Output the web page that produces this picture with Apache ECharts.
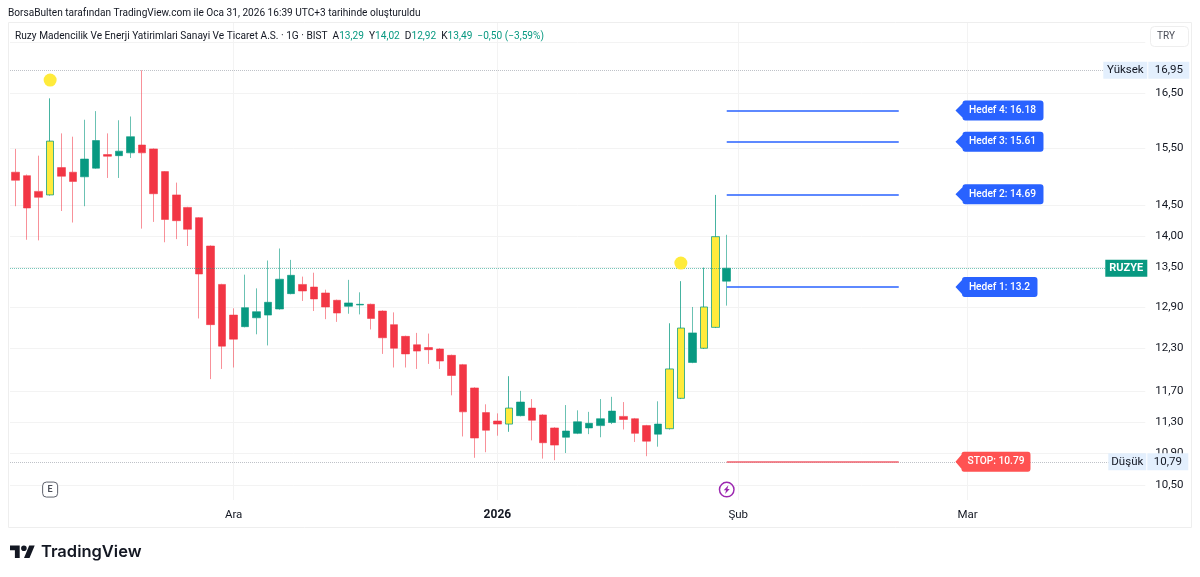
<!DOCTYPE html>
<html>
<head>
<meta charset="utf-8">
<style>
    html, body { margin: 0; padding: 0; background: #fff; }
    #chart { width: 1200px; height: 577px; }
</style>
<script src="https://cdn.jsdelivr.net/npm/echarts@6/dist/echarts.min.js"></script>
</head>
<body>
<div id="chart"></div>
<script>
// islem gunleri, sagdaki bos alan dahil
const dates = [
    "2025-11-04","2025-11-05","2025-11-06","2025-11-07","2025-11-10","2025-11-11","2025-11-12","2025-11-13","2025-11-14",
    "2025-11-17","2025-11-18","2025-11-19","2025-11-20","2025-11-21","2025-11-24","2025-11-25","2025-11-26","2025-11-27","2025-11-28",
    "2025-12-01","2025-12-02","2025-12-03","2025-12-04","2025-12-05","2025-12-08","2025-12-09","2025-12-10","2025-12-11","2025-12-12",
    "2025-12-15","2025-12-16","2025-12-17","2025-12-18","2025-12-19","2025-12-22","2025-12-23","2025-12-24","2025-12-25","2025-12-26",
    "2025-12-29","2025-12-30","2025-12-31","2026-01-02","2026-01-05","2026-01-06","2026-01-07","2026-01-08","2026-01-09",
    "2026-01-12","2026-01-13","2026-01-14","2026-01-15","2026-01-16","2026-01-19","2026-01-20","2026-01-21","2026-01-22","2026-01-23",
    "2026-01-26","2026-01-27","2026-01-28","2026-01-29","2026-01-30","2026-02-02","2026-02-03","2026-02-04","2026-02-05","2026-02-06",
    "2026-02-09","2026-02-10","2026-02-11","2026-02-12","2026-02-13","2026-02-16","2026-02-17","2026-02-18","2026-02-19","2026-02-20",
    "2026-02-23","2026-02-24","2026-02-25","2026-02-26","2026-02-27","2026-03-02","2026-03-03","2026-03-04","2026-03-05","2026-03-06",
    "2026-03-09","2026-03-10","2026-03-11","2026-03-12","2026-03-13","2026-03-16","2026-03-17","2026-03-18","2026-03-19","2026-03-20","2026-03-23"
];

const opens = [15.07,15.01,14.74,14.68,15.15,15.07,14.99,15.14,15.38,15.36,15.41,15.55,15.48,15.08,14.68,14.47,14.30,13.84,13.24,12.78,12.61,12.74,12.78,12.87,13.10,13.24,13.20,13.11,13.00,12.91,12.93,12.94,12.84,12.64,12.47,12.35,12.31,12.29,12.20,12.07,11.75,11.42,11.31,11.27,11.38,11.48,11.39,11.22,11.10,11.15,11.22,11.25,11.29,11.37,11.34,11.25,11.14,11.21,11.61,12.10,12.30,12.60,13.29];
const closes = [14.93,14.46,14.64,15.62,15.00,14.91,15.30,15.63,15.35,15.44,15.70,15.41,14.70,14.27,14.25,14.11,13.40,12.64,12.33,12.43,12.89,12.83,12.97,13.32,13.38,13.14,13.02,12.90,12.81,12.96,12.94,12.73,12.45,12.30,12.22,12.26,12.28,12.12,11.92,11.43,11.09,11.19,11.27,11.48,11.56,11.32,11.03,11.00,11.18,11.30,11.28,11.34,11.44,11.33,11.15,11.05,11.27,12.01,12.59,12.52,12.90,13.99,13.49];
const lows = [14.49,13.94,13.93,14.67,14.41,14.22,14.49,15.13,14.97,14.97,15.32,14.12,14.23,13.90,13.95,13.84,12.73,11.87,12.01,12.03,12.60,12.50,12.34,12.86,13.09,12.99,12.84,12.72,12.68,12.80,12.79,12.57,12.22,12.03,12.03,12.01,12.08,12.01,11.65,11.11,10.84,10.91,11.12,11.17,11.37,11.06,10.83,10.81,10.90,11.14,11.14,11.10,11.27,11.20,11.04,10.86,10.98,11.20,11.60,12.09,12.29,12.59,12.92];
const highs = [15.48,15.03,15.36,16.41,15.76,15.70,16.01,16.17,15.76,16.00,16.07,16.95,15.49,15.09,14.89,14.48,14.31,13.85,13.25,12.88,13.39,13.18,13.61,13.80,13.62,13.36,13.42,13.16,13.01,13.31,13.12,12.95,12.85,12.82,12.48,12.52,12.51,12.30,12.21,12.08,11.76,11.53,11.41,11.91,11.71,11.60,11.40,11.23,11.52,11.45,11.43,11.60,11.63,11.56,11.35,11.26,11.57,12.66,13.29,12.90,13.50,14.68,14.02];

// sari mumlar
const highlighted = [3, 43, 57, 58, 60, 61];

const xTickDates = ["2025-12-01", "2026-01-02", "2026-02-02", "2026-03-02"];
const xTickLabels = ["Ara", "2026", "Şub", "Mar"];
const yTicks = [10.5, 10.9, 11.3, 11.7, 12.3, 12.9, 13.5, 14, 14.5, 15.5, 16.5, 17.5];

const targets = [13.2, 14.69, 15.61, 16.18];
const stopPrice = 10.79;
const highPrice = 16.95;
const lowPrice = 10.79;
const lastPrice = 13.49;
const dots = [[3, 16.76], [58, 13.57]];

const RED = "#f23645";
const GREEN = "#089981";
const BLUE = "#2962ff";
const STOP_RED = "#ff5252";
const YELLOW = "#ffeb3b";
const FONT = "Roboto, sans-serif";
const tr = v => v.toFixed(2).replace(".", ",");

const chart = echarts.init(document.getElementById("chart"));

const candles = opens.map((o, i) => {
    const item = { value: [o, closes[i], lows[i], highs[i]] };
    if (highlighted.includes(i)) {
        item.itemStyle = { color: YELLOW, borderColor: "rgba(8,153,129,0.75)" };
    }
    return item;
});

// sag eksendeki fiyat etiketleri
function priceTag(name, value, nameWidth, offsetX) {
    return {
        show: true, position: "end", distance: 0, offset: [offsetX, 0],
        formatter: "{name|" + name + "}{gap| }{val|" + tr(value) + "}",
        rich: {
            name: { backgroundColor: "#e3effd", color: "#131722", fontFamily: FONT, fontSize: 11.5, align: "center", width: nameWidth, height: 17, lineHeight: 17 },
            gap: { width: 1, height: 17 },
            val: { backgroundColor: "#e3effd", color: "#131722", fontFamily: FONT, fontSize: 11.5, align: "center", width: 41, height: 17, lineHeight: 17 }
        }
    };
}

function targetLine(value, color) {
    return [
        { coord: [dates[62], value], lineStyle: { color: color, width: 1.5, type: "solid" }, label: { show: false } },
        { coord: [dates[77], value] }
    ];
}

// sola bakan fiyat kutusu
const PIN = "path://M0 10L7 3Q7 0 10 0L85 0Q88 0 88 3L88 17Q88 20 85 20L10 20Q7 20 7 17Z";
function pin(text, value, color, width) {
    return {
        coord: [dates[85], value],
        symbol: PIN,
        symbolSize: [width, 20],
        symbolOffset: [9 - (88 - width) / 2, 0],
        itemStyle: { color: color },
        label: {
            show: true, position: "inside", offset: [3, 0], formatter: text,
            color: "#fff", fontFamily: FONT, fontSize: 10.2, fontWeight: 500
        }
    };
}

const markerPoints = [
    ...dots.map(d => ({
        coord: [dates[d[0]], d[1]], symbol: "circle", symbolSize: 13,
        itemStyle: { color: YELLOW }, label: { show: false }
    })),
    ...targets.map((v, i) => pin("Hedef " + (i + 1) + ": " + v, v, BLUE, i === 0 ? 82 : 88)),
    pin("STOP: " + stopPrice, stopPrice, STOP_RED, 75),
    {
        coord: [dates[3], 10.45], symbol: "roundRect", symbolSize: 15,
        itemStyle: { color: "#fff", borderColor: "#5d606b", borderWidth: 1 },
        label: { show: true, position: "inside", formatter: "E", color: "#4a4d57", fontFamily: FONT, fontSize: 9, fontWeight: 600 }
    },
    {
        coord: [dates[62], 10.45], symbolSize: 16,
        symbol: "path://M12 0a12 12 0 1 1 0 24a12 12 0 1 1 0-24zM12 2.2a9.8 9.8 0 1 0 0 19.6a9.8 9.8 0 1 0 0-19.6zM14.5 5.5L7.5 13H11L9.5 18.5L16.5 11H13Z",
        itemStyle: { color: "#9c27b0" }, label: { show: false }
    }
];

const option = {
    animation: false,
    backgroundColor: "#fff",
    textStyle: { fontFamily: FONT },
    grid: { left: 10, right: 54.7, top: 23, bottom: 77 },
    xAxis: {
        type: "category",
        data: dates,
        boundaryGap: true,
        axisLine: { show: false },
        axisTick: { show: false },
        axisLabel: {
            interval: (i, v) => xTickDates.includes(v),
            margin: 9,
            fontFamily: FONT,
            fontSize: 11.5,
            color: "#131722",
            formatter: v => {
                const label = xTickLabels[xTickDates.indexOf(v)];
                return label === "2026" ? "{bold|" + label + "}" : label;
            },
            rich: { bold: { fontWeight: 700, fontSize: 12, fontFamily: FONT, color: "#131722" } }
        },
        splitLine: {
            show: true,
            alignWithLabel: true,
            interval: (i, v) => xTickDates.includes(v),
            lineStyle: { color: "#f3f3f3", width: 1 }
        }
    },
    yAxis: {
        type: "log",
        logBase: 10,
        min: 10.325,
        max: 17.9,
        position: "right",
        axisLine: { show: false },
        axisTick: { show: false, customValues: yTicks },
        axisLabel: {
            customValues: yTicks.slice(0, -1),
            margin: 10,
            align: "left",
            padding: [2, 0, 0, 0],
            fontFamily: FONT,
            fontSize: 11.5,
            color: "#131722",
            formatter: v => tr(+v)
        },
        splitLine: { show: true, lineStyle: { color: "#f3f3f3", width: 1 } }
    },
    series: [{
        type: "candlestick",
        data: candles,
        barWidth: 8,
        itemStyle: {
            color: GREEN,
            color0: RED,
            borderColor: "rgba(8,153,129,0.6)",
            borderColor0: "rgba(242,54,69,0.55)",
            borderWidth: 1
        },
        markLine: {
            silent: true,
            symbol: ["none", "none"],
            animation: false,
            data: [
                { yAxis: highPrice, lineStyle: { color: "#bfc2c8", type: "dotted", width: 1 }, label: priceTag("Yüksek", highPrice, 44, -42) },
                { yAxis: lowPrice, lineStyle: { color: "#bfc2c8", type: "dotted", width: 1 }, label: priceTag("Düşük", lowPrice, 38, -37) },
                {
                    yAxis: lastPrice, lineStyle: { color: "rgba(8,153,129,0.55)", type: "dotted", width: 1 },
                    label: {
                        show: true, position: "end", distance: 0, offset: [-19, 0], formatter: "RUZYE",
                        backgroundColor: GREEN, color: "#fff", fontFamily: FONT, fontSize: 11, fontWeight: 700,
                        width: 42, height: 17, lineHeight: 17, align: "center"
                    }
                },
                ...targets.map(v => targetLine(v, BLUE)),
                targetLine(stopPrice, "#f0616d")
            ]
        },
        markPoint: { silent: true, animation: false, data: markerPoints }
    }],
    graphic: [
        // cerceve
        { type: "rect", z: -1, shape: { x: 8.5, y: 22.5, width: 1183, height: 505 }, style: { fill: "none", stroke: "#eeeeee", lineWidth: 1 } },
        {
            type: "text", z: 100, x: 8, y: 13.5,
            style: { text: "BorsaBulten tarafından TradingView.com ile Oca 31, 2026 16:39 UTC+3 tarihinde oluşturuldu", fontFamily: FONT, fontSize: 10.1, fill: "#131722", verticalAlign: "middle" }
        },
        {
            type: "text", z: 100, x: 15, y: 36,
            style: {
                text: "Ruzy Madencilik Ve Enerji Yatirimlari Sanayi Ve Ticaret A.S. · 1G · BIST  A{v|13,29}  Y{v|14,02}  D{v|12,92}  K{v|13,49}  {v|−0,50 (−3,59%)}",
                fontFamily: FONT, fontSize: 10.15, fill: "#131722", verticalAlign: "middle",
                rich: { v: { fill: GREEN, fontFamily: FONT, fontSize: 10.15 } }
            }
        },
        // TRY dugmesi
        { type: "rect", z: 100, shape: { x: 1150.5, y: 26.5, width: 38, height: 20, r: 4 }, style: { fill: "#fff", stroke: "#eeeeee", lineWidth: 1 } },
        { type: "text", z: 101, x: 1166, y: 36.5, style: { text: "TRY", fontFamily: FONT, fontSize: 10, fill: "#4a4d57", align: "center", verticalAlign: "middle" } },
        // logo
        { type: "polygon", shape: { points: [[10, 545.5], [19.7, 545.5], [19.7, 557.9], [14.9, 557.9], [14.9, 550.3], [10, 550.3]] }, style: { fill: "#131722" } },
        { type: "polygon", shape: { points: [[29.2, 545.5], [34.7, 545.5], [29.5, 557.9], [24, 557.9]] }, style: { fill: "#131722" } },
        { type: "circle", shape: { cx: 23.9, cy: 548.3, r: 2.8 }, style: { fill: "#131722" } },
        { type: "text", x: 41, y: 552, style: { text: "TradingView", fontFamily: "Inter, sans-serif", fontSize: 16.5, fontWeight: 600, fill: "#131722", verticalAlign: "middle" } }
    ]
};

chart.setOption(option);
</script>
</body>
</html>
